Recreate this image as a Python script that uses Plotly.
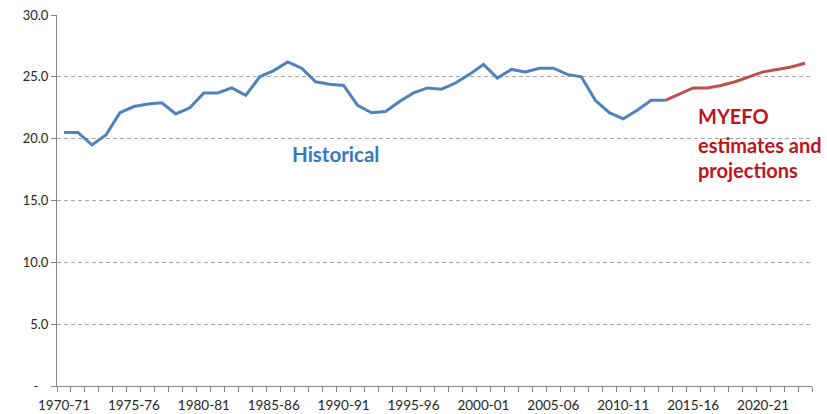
import plotly.graph_objects as go

# Financial years 1970-71 .. 2023-24
years = [f"{y}-{str(y + 1)[-2:]}" for y in range(1970, 2024)]

historical = [20.5, 20.5, 19.5, 20.3, 22.1, 22.6, 22.8, 22.9, 22.0, 22.5,
              23.7, 23.7, 24.1, 23.5, 25.0, 25.5, 26.2, 25.7, 24.6, 24.4,
              24.3, 22.7, 22.1, 22.2, 23.0, 23.7, 24.1, 24.0, 24.5, 25.2,
              26.0, 24.9, 25.6, 25.4, 25.7, 25.7, 25.2, 25.0, 23.1, 22.1,
              21.6, 22.3, 23.1, 23.1]
projections = [23.1, 23.6, 24.1, 24.1, 24.3, 24.6, 25.0, 25.4, 25.6, 25.8, 26.1]

y_ticks = [0, 5, 10, 15, 20, 25, 30]
y_ticktext = ["-\u00a0\u00a0\u00a0", "5.0", "10.0", "15.0", "20.0", "25.0", "30.0"]

n_hist = len(historical)
x_all = list(range(len(years)))
x_hist = x_all[:n_hist]
x_proj = x_all[n_hist - 1:n_hist - 1 + len(projections)]

label_idx = x_all[::5]
label_text = years[::5]

FONT = "Lato, 'Open Sans', 'Liberation Sans', sans-serif"
AXIS_COL = "#868686"

fig = go.Figure()
fig.add_trace(go.Scatter(x=x_hist, y=historical, mode="lines",
                         line=dict(color="#4F81BD", width=3), showlegend=False,
                         hoverinfo="skip"))
fig.add_trace(go.Scatter(x=x_proj, y=projections, mode="lines",
                         line=dict(color="#C0504D", width=3), showlegend=False,
                         hoverinfo="skip"))

fig.update_layout(
    width=827, height=414,
    margin=dict(l=57, r=15, t=15, b=28, autoexpand=False),
    paper_bgcolor="white", plot_bgcolor="white",
    font=dict(family=FONT, size=13, color="#262626"),
    xaxis=dict(
        range=[-0.5, len(years) - 0.5],
        tickmode="array", tickvals=label_idx, ticktext=label_text,
        ticks="", showgrid=False, zeroline=False, automargin=False,
        showline=True, linecolor=AXIS_COL, linewidth=1,
        ticklabelstandoff=7,
        tickfont=dict(family=FONT, size=13.5, color="#262626"),
        minor=dict(tickmode="array",
                   tickvals=[i - 0.5 for i in range(len(years) + 1)],
                   ticks="outside", ticklen=5, tickcolor=AXIS_COL,
                   showgrid=False),
        fixedrange=True,
    ),
    yaxis=dict(
        range=[0, 30],
        tickmode="array", tickvals=y_ticks, ticktext=y_ticktext,
        ticks="outside", ticklen=5, tickcolor=AXIS_COL,
        showgrid=True, gridcolor="#A6A6A6", gridwidth=1, griddash="4px,3px",
        zeroline=False, showline=True, linecolor=AXIS_COL, linewidth=1,
        automargin=False,
        tickfont=dict(family=FONT, size=13, color="#262626"),
        fixedrange=True,
    ),
)

fig.add_annotation(x=19.4, y=18.8, xref="x", yref="y", text="<b>Historical</b>",
                   showarrow=False, xanchor="center", yanchor="middle",
                   font=dict(family=FONT, size=20.5, color="#3779BF"))
for txt, yv in [("MYEFO", 21.8), ("estimates and", 19.45), ("projections", 17.45)]:
    fig.add_annotation(x=45.2, y=yv, xref="x", yref="y", text=f"<b>{txt}</b>",
                       showarrow=False, xanchor="left", yanchor="middle",
                       font=dict(family=FONT, size=20, color="#C0141C"))

fig.write_html("out.html", config={"displayModeBar": False},
               post_script="document.body.style.margin='0';document.body.style.overflow='hidden';")
